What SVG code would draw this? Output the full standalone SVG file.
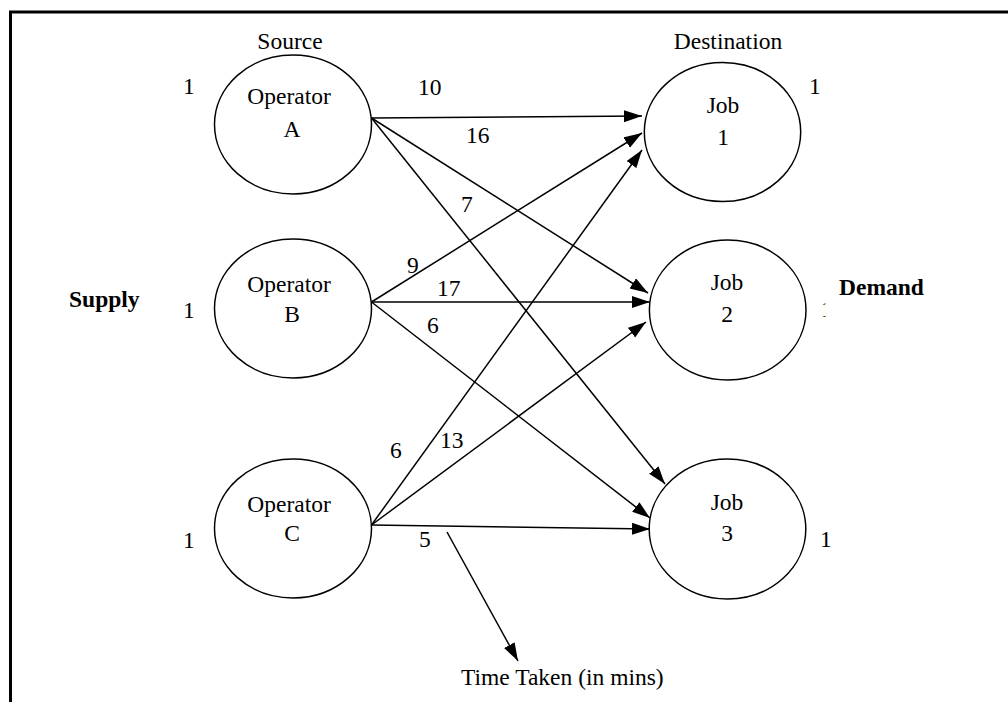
<svg xmlns="http://www.w3.org/2000/svg" width="1008" height="702" viewBox="0 0 1008 702">
<style>
.t{font-family:"Liberation Serif","Times New Roman",serif;font-size:23.5px;fill:#000}
.b{font-weight:bold}
.m{text-anchor:middle}
.node{fill:#fff;stroke:#000;stroke-width:1.5}
.edge{stroke:#000;stroke-width:1.5;fill:none;marker-end:url(#ah)}
</style>
<defs>
<marker id="ah" markerUnits="userSpaceOnUse" markerWidth="19" markerHeight="13" refX="18" refY="6" orient="auto">
<path d="M0,0 L18,6 L0,12 z" fill="#000"/>
</marker>
<clipPath id="cl"><rect x="800" y="290" width="25.5" height="40"/></clipPath>
</defs>
<rect width="1008" height="702" fill="#fff"/>
<path d="M10.5,702 V12 H1008" fill="none" stroke="#000" stroke-width="3"/>
<text class="t m" x="290" y="49">Source</text>
<text class="t m" x="728" y="49">Destination</text>
<text class="t b" x="69" y="307">Supply</text>
<text class="t b" x="839" y="295">Demand</text>
<text class="t" x="183" y="94">1</text>
<text class="t" x="183" y="318">1</text>
<text class="t" x="183" y="548">1</text>
<text class="t" x="809" y="94">1</text>
<text class="t" x="821" y="317" clip-path="url(#cl)">1</text>
<text class="t" x="820" y="547">1</text>
<g id="connectors">
<line class="edge" x1="371.5" y1="118" x2="642" y2="116"/>
<line class="edge" x1="371.5" y1="118" x2="648" y2="293"/>
<line class="edge" x1="371.5" y1="118" x2="665" y2="484"/>
<line class="edge" x1="371.5" y1="302" x2="642" y2="133"/>
<line class="edge" x1="371.5" y1="302" x2="650" y2="302"/>
<line class="edge" x1="371.5" y1="302" x2="650" y2="518"/>
<line class="edge" x1="371.5" y1="525" x2="642" y2="150"/>
<line class="edge" x1="371.5" y1="525" x2="646" y2="322"/>
<line class="edge" x1="371.5" y1="525" x2="650" y2="529"/>
<line class="edge" x1="447" y1="532" x2="518" y2="661"/>
</g>
<g id="edge-labels">
<text class="t" x="418" y="95">10</text>
<text class="t" x="466" y="143">16</text>
<text class="t" x="461" y="212">7</text>
<text class="t" x="407" y="273">9</text>
<text class="t" x="437" y="296">17</text>
<text class="t" x="427" y="333">6</text>
<text class="t" x="390" y="458">6</text>
<text class="t" x="440" y="448">13</text>
<text class="t" x="419" y="547">5</text>
<text class="t" x="461" y="685">Time Taken (in mins)</text>
</g>
<g id="operatorA">
<ellipse class="node" cx="293" cy="124.5" rx="78.5" ry="69.5"/>
<text class="t m" x="289" y="104">Operator</text>
<text class="t m" x="292" y="137">A</text>
</g>
<g id="operatorB">
<ellipse class="node" cx="293" cy="308.5" rx="78.5" ry="69.5"/>
<text class="t m" x="289" y="292">Operator</text>
<text class="t m" x="292" y="322">B</text>
</g>
<g id="operatorC">
<ellipse class="node" cx="293" cy="528.5" rx="78.5" ry="69.5"/>
<text class="t m" x="289" y="512">Operator</text>
<text class="t m" x="292" y="541">C</text>
</g>
<g id="job1">
<ellipse class="node" cx="722.5" cy="132" rx="78.2" ry="69.5"/>
<text class="t m" x="723" y="113">Job</text>
<text class="t m" x="723" y="145">1</text>
</g>
<g id="job2">
<ellipse class="node" cx="727.7" cy="310" rx="78.3" ry="70"/>
<text class="t m" x="727" y="290">Job</text>
<text class="t m" x="727" y="322">2</text>
</g>
<g id="job3">
<ellipse class="node" cx="727.5" cy="529" rx="78.3" ry="70"/>
<text class="t m" x="727" y="510">Job</text>
<text class="t m" x="727" y="541">3</text>
</g>
</svg>
